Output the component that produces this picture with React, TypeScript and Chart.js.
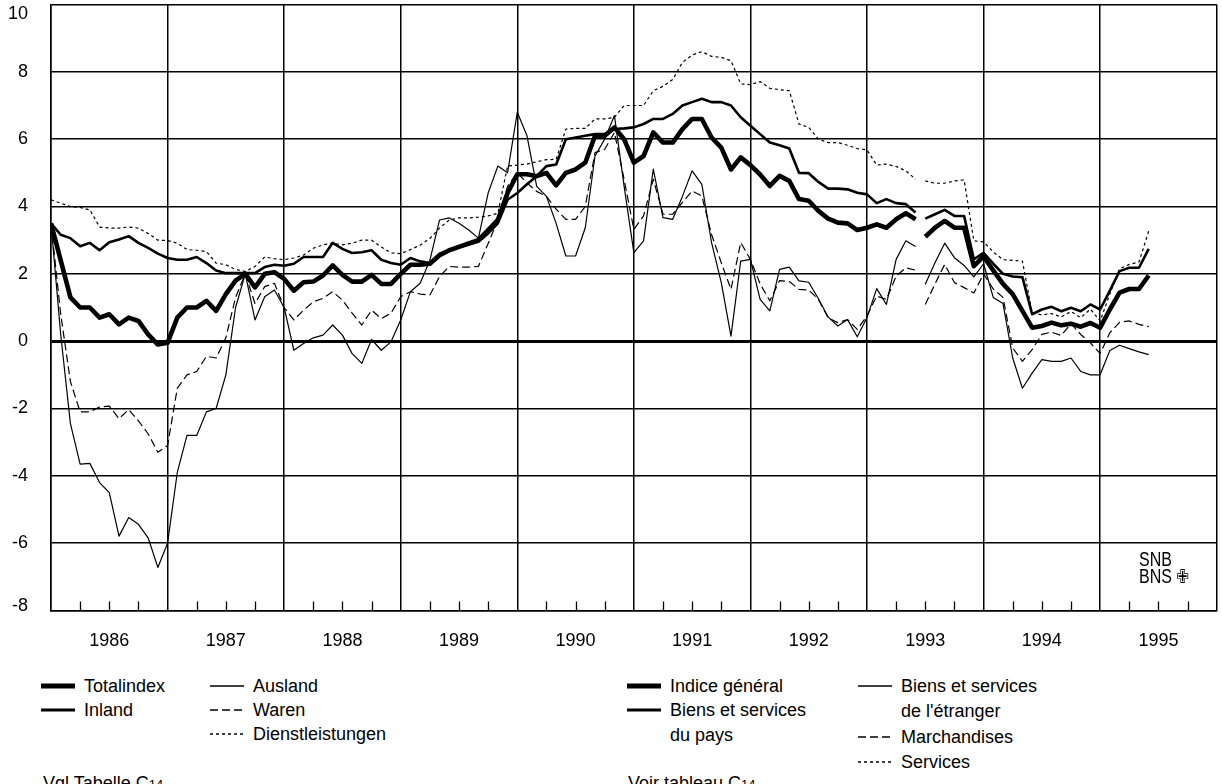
import React, { useEffect, useRef } from 'react';
import { Chart, registerables } from 'chart.js';

Chart.register(...registerables);

// ---- data (monthly year-on-year change in %, Jan 1986 = index 0) ----
const yearLabels = ['1986', '1987', '1988', '1989', '1990', '1991', '1992', '1993', '1994', '1995'];
const yTickValues = [-8, -6, -4, -2, 0, 2, 4, 6, 8, 10];
const gapAfterIndex = 89; // series break in 1993 (new basket)

const totalindex = [
  3.5, 2.4, 1.3, 1.0, 1.0, 0.7, 0.8, 0.5, 0.7, 0.6, 0.2, -0.1,
  -0.05, 0.7, 1.0, 1.0, 1.2, 0.9, 1.4, 1.8, 2.0, 1.6, 2.0, 2.05,
  1.85, 1.5, 1.75, 1.77, 1.95, 2.25, 1.97, 1.77, 1.77, 1.97, 1.7, 1.7,
  2.0, 2.27, 2.27, 2.3, 2.55, 2.7, 2.8, 2.9, 3.0, 3.3, 3.6, 4.4,
  4.96, 4.96, 4.9, 5.0, 4.63, 5.0, 5.1, 5.3, 6.1, 6.1, 6.35, 6.0,
  5.3, 5.5, 6.2, 5.9, 5.9, 6.3, 6.6, 6.6, 6.05, 5.75, 5.1, 5.46,
  5.23, 4.95, 4.61, 4.91, 4.76, 4.22, 4.17, 3.87, 3.64, 3.52, 3.5, 3.3,
  3.37, 3.47, 3.37, 3.62, 3.8, 3.62, 3.1, 3.37, 3.57, 3.37, 3.37, 2.23,
  2.52, 2.1, 1.7, 1.4, 0.9, 0.4, 0.45, 0.55, 0.47, 0.52, 0.43, 0.54,
  0.4, 0.94, 1.44, 1.55, 1.55, 1.95,
];

const inland = [
  3.5, 3.16, 3.06, 2.82, 2.92, 2.7, 2.94, 3.02, 3.12, 2.92, 2.77, 2.6,
  2.47, 2.42, 2.42, 2.5, 2.32, 2.1, 2.02, 2.02, 2.02, 2.02, 2.2, 2.27,
  2.24, 2.3, 2.5, 2.5, 2.5, 2.92, 2.74, 2.62, 2.64, 2.7, 2.42, 2.32,
  2.27, 2.47, 2.37, 2.32, 2.6, 2.7, 2.8, 2.87, 2.95, 3.2, 3.5, 4.2,
  4.4, 4.66, 4.9, 5.2, 5.25, 6.0, 6.05, 6.1, 6.15, 6.15, 6.3, 6.32,
  6.35, 6.45, 6.6, 6.6, 6.75, 7.0, 7.1, 7.2, 7.1, 7.1, 7.0, 6.65,
  6.4, 6.15, 5.9, 5.82, 5.72, 5.0, 4.99, 4.73, 4.53, 4.53, 4.51, 4.41,
  4.36, 4.1, 4.22, 4.1, 4.07, 3.82, 3.64, 3.77, 3.9, 3.72, 3.72, 2.43,
  2.62, 2.3, 2.0, 1.92, 1.9, 0.8, 0.94, 1.02, 0.89, 0.99, 0.89, 1.09,
  0.94, 1.5, 2.08, 2.18, 2.18, 2.74,
];

const ausland = [
  3.5, 0.2, -2.45, -3.65, -3.63, -4.2, -4.5, -5.79, -5.24, -5.44, -5.84, -6.72,
  -6.0, -3.9, -2.8, -2.8, -2.1, -2.0, -1.0, 1.0, 2.0, 0.63, 1.32, 1.52,
  1.0, -0.27, -0.07, 0.1, 0.18, 0.48, 0.18, -0.37, -0.66, 0.05, -0.27, -0.02,
  0.63, 1.47, 1.72, 2.4, 3.6, 3.66, 3.5, 3.3, 3.06, 4.4, 5.2, 5.0,
  6.8, 6.1, 4.6, 4.3, 3.5, 2.53, 2.53, 3.37, 5.5, 6.0, 6.7, 4.6,
  2.63, 2.98, 5.11, 3.67, 3.62, 4.3, 5.06, 4.66, 2.93, 1.74, 0.15, 2.38,
  2.43, 1.24, 0.9, 2.13, 2.2, 1.79, 1.75, 1.26, 0.72, 0.45, 0.64, 0.13,
  0.7, 1.56, 1.09, 2.43, 2.98, 2.81, 1.69, 2.33, 2.91, 2.48, 2.25, 1.91,
  2.3, 1.3, 1.12, -0.5, -1.4, -0.95, -0.55, -0.6, -0.6, -0.5, -0.9, -1.0,
  -1.0, -0.28, -0.12, -0.22, -0.32, -0.4,
];

const waren = [
  3.5, 0.8, -1.2, -2.1, -2.1, -1.96, -1.93, -2.3, -2.03, -2.37, -2.75, -3.3,
  -3.1, -1.4, -1.0, -0.9, -0.45, -0.5, 0.1, 1.3, 2.0, 1.12, 1.62, 1.72,
  1.0, 0.63, 0.92, 1.17, 1.27, 1.47, 1.22, 0.83, 0.48, 0.92, 0.67, 0.83,
  1.32, 1.47, 1.4, 1.37, 1.92, 2.22, 2.2, 2.2, 2.22, 2.9, 3.6, 4.6,
  5.0, 4.7, 4.45, 4.3, 3.92, 3.62, 3.62, 4.0, 5.6, 5.7, 6.2, 4.8,
  3.32, 3.72, 4.81, 3.77, 3.77, 4.12, 4.46, 4.31, 3.17, 2.33, 1.54, 2.93,
  2.43, 1.7, 1.2, 1.8, 1.77, 1.54, 1.52, 1.24, 0.69, 0.55, 0.64, 0.35,
  0.75, 1.34, 1.24, 1.93, 2.18, 2.11, 1.09, 1.7, 2.28, 1.74, 1.59, 1.43,
  2.0, 1.55, 1.3, -0.2, -0.6, -0.25, 0.2, 0.27, 0.17, 0.52, 0.2, -0.05,
  -0.37, 0.25, 0.56, 0.6, 0.5, 0.43,
];

const dienstleistungen = [
  4.2, 4.1, 4.0, 3.97, 3.9, 3.39, 3.36, 3.36, 3.39, 3.36, 3.2, 3.0,
  2.99, 2.91, 2.72, 2.7, 2.66, 2.32, 2.27, 2.13, 2.07, 2.22, 2.5, 2.45,
  2.42, 2.47, 2.56, 2.76, 2.86, 2.91, 2.86, 2.91, 3.0, 3.0, 2.8, 2.62,
  2.6, 2.72, 2.85, 3.05, 3.36, 3.6, 3.66, 3.66, 3.68, 3.72, 3.8, 5.2,
  5.23, 5.26, 5.33, 5.39, 5.4, 6.3, 6.32, 6.32, 6.6, 6.6, 6.65, 7.0,
  7.0, 7.0, 7.44, 7.57, 7.77, 8.28, 8.5, 8.6, 8.46, 8.43, 8.33, 7.64,
  7.62, 7.71, 7.51, 7.47, 7.44, 6.45, 6.35, 6.0, 5.9, 5.9, 5.82, 5.72,
  5.68, 5.23, 5.26, 5.19, 5.06, 4.81, 4.76, 4.69, 4.69, 4.76, 4.79, 2.98,
  2.95, 2.65, 2.42, 2.4, 2.38, 0.84, 0.78, 0.82, 0.72, 0.88, 0.7, 0.95,
  0.6, 1.4, 2.15, 2.28, 2.35, 3.27,
];

// ---- layout / style ----
const CANVAS_W = 1222;
const CANVAS_H = 660;
const FONT = "'Liberation Sans', Arial, sans-serif";

type LineStyle = { width: number; dash: number[] };
const styles: Record<string, LineStyle> = {
  total: { width: 4.6, dash: [] },
  inland: { width: 2.6, dash: [] },
  ausland: { width: 1.2, dash: [] },
  waren: { width: 1.2, dash: [8, 4] },
  dienst: { width: 1.2, dash: [3, 3] },
};

const toPoints = (vals: number[]) => {
  const pts: { x: number; y: number | null }[] = [];
  vals.forEach((v, i) => {
    pts.push({ x: i, y: v });
    if (i === gapAfterIndex) pts.push({ x: i + 0.5, y: null });
  });
  return pts;
};

const quarterTicks = {
  id: 'quarterTicks',
  afterDatasetsDraw(chart: any) {
    const xs = chart.scales.x;
    const { bottom } = chart.chartArea;
    const ctx = chart.ctx;
    ctx.save();
    ctx.strokeStyle = '#000';
    ctx.lineWidth = 1.3;
    xs.ticks.forEach((t: any) => {
      if (t.value % 12 !== 0) {
        const px = Math.round(xs.getPixelForValue(t.value)) + 0.5;
        ctx.beginPath();
        ctx.moveTo(px, bottom);
        ctx.lineTo(px, bottom - 9);
        ctx.stroke();
      }
    });
    ctx.restore();
  },
};

function Sample({ kind }: { kind: string }) {
  const s = styles[kind];
  return (
    <svg width={34} height={12} style={{ position: 'absolute', left: 0, top: 6 }}>
      <line
        x1={0}
        y1={6}
        x2={34}
        y2={6}
        stroke="#000"
        strokeWidth={kind === 'total' ? 5 : s.width + 0.3}
        strokeDasharray={s.dash.length ? s.dash.join(' ') : undefined}
      />
    </svg>
  );
}

function LegendItem({ x, y, kind, lines }: { x: number; y: number; kind?: string; lines: string[] }) {
  return (
    <div style={{ position: 'absolute', left: x, top: y, height: 25 * lines.length }}>
      {kind ? <Sample kind={kind} /> : null}
      <div style={{ position: 'absolute', left: 43, top: 0, whiteSpace: 'nowrap', lineHeight: '25px' }}>
        {lines.map((l, i) => (
          <div key={i}>{l}</div>
        ))}
      </div>
    </div>
  );
}

export default function App() {
  const ref = useRef<HTMLCanvasElement>(null);

  useEffect(() => {
    const mk = (label: string, vals: number[], kind: string) => ({
      label,
      data: toPoints(vals),
      borderColor: '#000',
      backgroundColor: '#000',
      borderWidth: styles[kind].width,
      borderDash: styles[kind].dash,
      pointRadius: 0,
      tension: 0,
      spanGaps: false,
      borderJoinStyle: 'round' as const,
      fill: false,
    });

    const topVal = yTickValues[yTickValues.length - 1];
    const bottomVal = yTickValues[0];

    const chart = new Chart(ref.current as HTMLCanvasElement, {
      type: 'line',
      data: {
        datasets: [
          mk('Totalindex', totalindex, 'total'),
          mk('Inland', inland, 'inland'),
          mk('Ausland', ausland, 'ausland'),
          mk('Waren', waren, 'waren'),
          mk('Dienstleistungen', dienstleistungen, 'dienst'),
        ],
      },
      options: {
        responsive: false,
        devicePixelRatio: 1,
        animation: false,
        layout: { padding: { top: 4.5, right: 5.3, left: 0, bottom: 0 } },
        plugins: { legend: { display: false }, tooltip: { enabled: false } },
        scales: {
          x: {
            type: 'linear',
            min: 0,
            max: yearLabels.length * 12,
            ticks: {
              stepSize: 3,
              autoSkip: false,
              maxRotation: 0,
              minRotation: 0,
              padding: 20,
              color: '#000',
              font: { family: FONT, size: 18 },
              callback: (v: any) => (Number(v) % 12 === 6 ? yearLabels[(Number(v) - 6) / 12] : ''),
            },
            grid: {
              drawTicks: false,
              color: (ctx: any) => (ctx.tick && ctx.tick.value % 12 === 0 ? '#000' : 'rgba(0,0,0,0)'),
              lineWidth: (ctx: any) => (ctx.tick && ctx.tick.value % 12 === 0 ? 1.5 : 0),
            },
            border: { display: true, color: '#000', width: 1.5 },
            afterFit: (s: any) => {
              s.height = CANVAS_H - 610.5;
              s.paddingLeft = 0;
              s.paddingRight = 0;
            },
          },
          y: {
            min: bottomVal,
            max: topVal,
            afterBuildTicks: (s: any) => {
              s.ticks = yTickValues.map((v) => ({ value: v }));
            },
            ticks: {
              padding: 23,
              color: '#000',
              font: { family: FONT, size: 18, lineHeight: 0.55 },
              callback: (v: any) => {
                const n = Number(v);
                if (n === topVal) return ['', '', String(n)];
                if (n === bottomVal) return [String(n), ''];
                return String(n);
              },
            },
            grid: {
              drawTicks: false,
              color: '#000',
              lineWidth: (ctx: any) => (ctx.tick && ctx.tick.value === 0 ? 3 : 1.5),
            },
            border: { display: true, color: '#000', width: 1.5 },
            afterFit: (s: any) => {
              s.width = 51;
              s.paddingTop = 0;
              s.paddingBottom = 0;
            },
          },
        },
      },
      plugins: [quarterTicks],
    });
    return () => chart.destroy();
  }, []);

  return (
    <div
      style={{
        position: 'absolute',
        left: 0,
        top: 0,
        width: CANVAS_W,
        height: 784,
        overflow: 'hidden',
        background: '#fff',
        fontFamily: FONT,
        fontSize: 18,
        color: '#000',
      }}
    >
      <canvas ref={ref} width={CANVAS_W} height={CANVAS_H} style={{ display: 'block' }} />

      <div
        style={{
          position: 'absolute',
          left: 1139,
          top: 551,
          fontSize: 20,
          lineHeight: '17px',
          transform: 'scaleX(0.8)',
          transformOrigin: 'left top',
        }}
      >
        <div>SNB</div>
        <div>
          BNS <span style={{ fontFamily: "'DejaVu Sans'", fontSize: 19 }}>✙</span>
        </div>
      </div>

      <LegendItem x={41} y={674} kind="total" lines={['Totalindex']} />
      <LegendItem x={41} y={698} kind="inland" lines={['Inland']} />
      <LegendItem x={210} y={674} kind="ausland" lines={['Ausland']} />
      <LegendItem x={210} y={698} kind="waren" lines={['Waren']} />
      <LegendItem x={210} y={722} kind="dienst" lines={['Dienstleistungen']} />

      <LegendItem x={627} y={674} kind="total" lines={['Indice général']} />
      <LegendItem x={627} y={698} kind="inland" lines={['Biens et services', 'du pays']} />
      <LegendItem x={858} y={674} kind="ausland" lines={['Biens et services', "de l'étranger"]} />
      <LegendItem x={858} y={725} kind="waren" lines={['Marchandises']} />
      <LegendItem x={858} y={750} kind="dienst" lines={['Services']} />

      <div style={{ position: 'absolute', left: 43, top: 771, lineHeight: '25px', whiteSpace: 'nowrap' }}>
        Vgl Tabelle C<span style={{ fontSize: 13 }}>14</span>
      </div>
      <div style={{ position: 'absolute', left: 628, top: 771, lineHeight: '25px', whiteSpace: 'nowrap' }}>
        Voir tableau C<span style={{ fontSize: 13 }}>14</span>
      </div>
    </div>
  );
}
